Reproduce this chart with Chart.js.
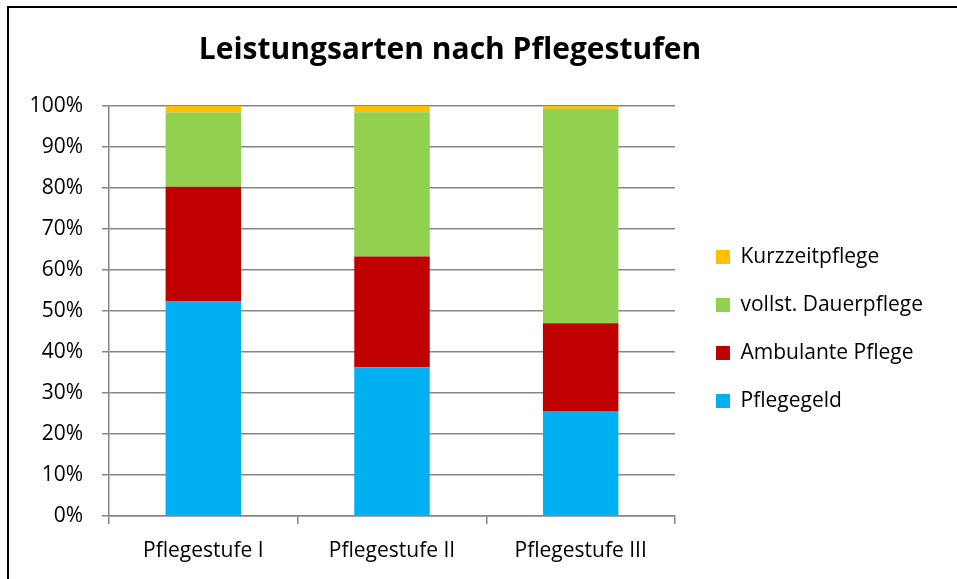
<!DOCTYPE html>
<html>
<head>
<meta charset="utf-8">
<script src="https://cdn.jsdelivr.net/npm/chart.js@4.4.1/dist/chart.umd.min.js"></script>
<style>
  html, body { margin: 0; padding: 0; background: #fff; }
  #wrap { position: relative; width: 957px; height: 579px; overflow: hidden; }
  #frame { position: absolute; left: 7px; top: 6px; width: 1000px; height: 700px;
           border-left: 2px solid #000; border-top: 2px solid #000; pointer-events: none; }
</style>
</head>
<body>
<div id="wrap">
  <canvas id="chartOne" width="957" height="579"></canvas>
  <div id="frame"></div>
</div>
<script>
var categories = ["Pflegestufe I", "Pflegestufe II", "Pflegestufe III"]
var pflegegeld = [52.3, 36.3, 25.6]
var ambulantePflege = [28.0, 27.0, 21.4]
var dauerpflege = [18.1, 35.2, 52.3]
var kurzzeitpflege = [1.6, 1.5, 0.7]

Chart.defaults.font.family = "'Open Sans', sans-serif"
Chart.defaults.color = "#000"

// nudge the legend away from the plot, like the original
var shiftLegend = {
    id: "shiftLegend",
    afterLayout: function (chart) {
        chart.legend.left += 14
        chart.legend.right += 80
        chart.legend.top += 36
        chart.legend.bottom += 36
    }
}

var getChartOne = document.getElementById("chartOne")

var chartOne = new Chart(getChartOne, {
    type: "bar",
    data: {
        labels: categories,
        datasets: [{
            label: "Pflegegeld",
            data: pflegegeld,
            backgroundColor: "#00B0F0"
        }, {
            label: "Ambulante Pflege",
            data: ambulantePflege,
            backgroundColor: "#C00000"
        }, {
            label: "vollst. Dauerpflege",
            data: dauerpflege,
            backgroundColor: "#92D050"
        }, {
            label: "Kurzzeitpflege",
            data: kurzzeitpflege,
            backgroundColor: "#FFC000"
        }]
    },
    options: {
        responsive: false,
        animation: false,
        layout: { padding: { left: 0, right: 57, top: 8, bottom: 1 } },
        datasets: { bar: { categoryPercentage: 0.4, barPercentage: 1 } },
        plugins: {
            title: {
                display: true,
                text: "Leistungsarten nach Pflegestufen",
                font: { size: 30, weight: "bold" },
                padding: { top: 24, bottom: 38 }
            },
            legend: {
                position: "right",
                reverse: true,
                labels: {
                    boxWidth: 14,
                    boxHeight: 14,
                    padding: 27,
                    font: { size: 21 }
                }
            },
            tooltip: { enabled: false }
        },
        scales: {
            x: {
                stacked: true,
                grid: {
                    offset: true,
                    drawOnChartArea: false,
                    tickLength: 8,
                    color: "#868686",
                    lineWidth: 1.5
                },
                border: { color: "#868686", width: 1.5 },
                ticks: { font: { size: 21, lineHeight: 1 }, padding: 16.5 }
            },
            y: {
                stacked: true,
                min: 0,
                max: 100,
                afterFit: function (scale) { scale.width = 109 },
                grid: { tickLength: 7, color: "#868686", lineWidth: 1.5 },
                border: { color: "#868686", width: 1.5 },
                ticks: {
                    stepSize: 10,
                    padding: 19,
                    font: { size: 21 },
                    callback: function (v) { return v + "%" }
                }
            }
        }
    },
    plugins: [shiftLegend]
})
</script>
</body>
</html>
